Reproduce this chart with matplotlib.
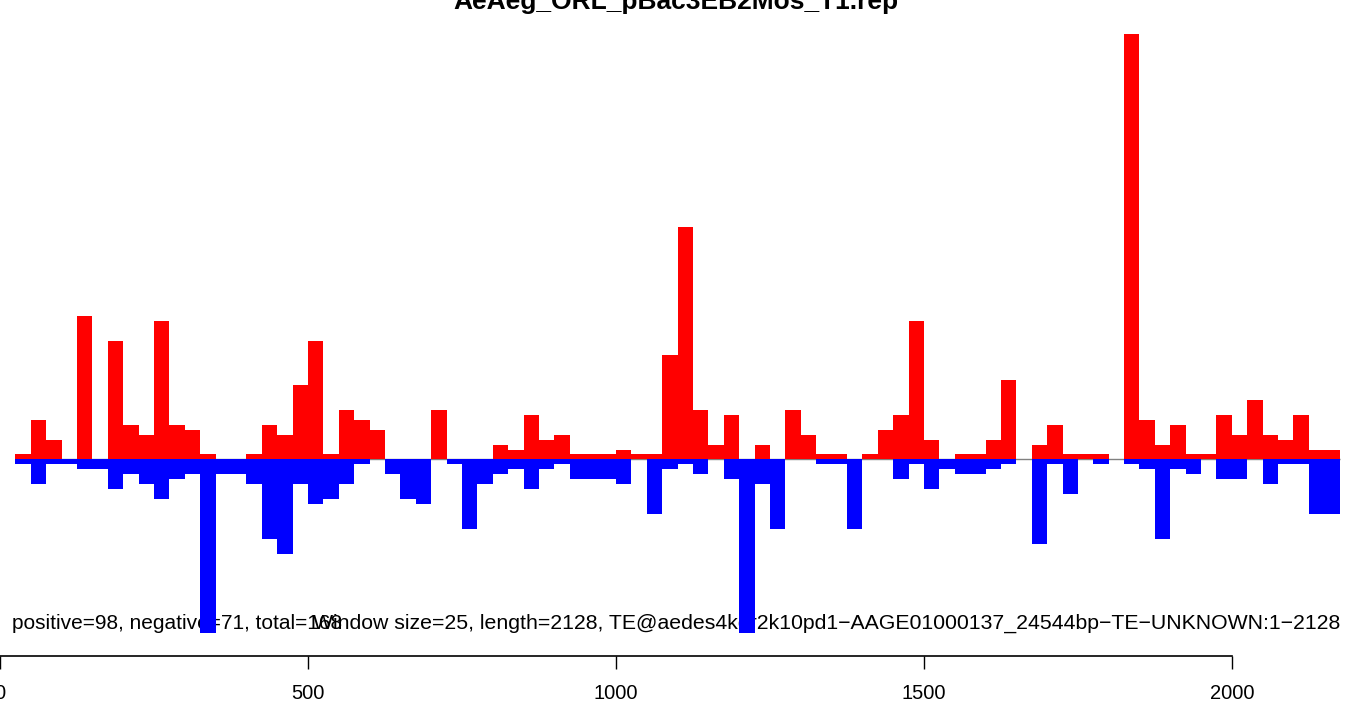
import numpy as np
import matplotlib
matplotlib.use("Agg")
import matplotlib.pyplot as plt

plt.rcParams['font.family'] = ['Liberation Sans', 'DejaVu Sans']

# window counts (one value per 25bp window)
window_size = 25
seq_length = 2128
positive = [1, 8, 4, 0, 29, 0, 24, 7, 5, 28, 7, 6, 1, 0, 0,
            1, 7, 5, 15, 24, 1, 10, 8, 6, 0, 0, 0, 10, 0, 0,
            0, 3, 2, 9, 4, 5, 1, 1, 1, 2, 1, 1, 21, 47, 10,
            3, 9, 0, 3, 0, 10, 5, 1, 1, 0, 1, 6, 9, 28, 4,
            0, 1, 1, 4, 16, 0, 3, 7, 1, 1, 1, 0, 86, 8, 3,
            7, 1, 1, 9, 5, 12, 5, 4, 9, 2, 2]
negative = [1, 5, 1, 1, 2, 2, 6, 3, 5, 8, 4, 3, 35, 3, 3,
            5, 16, 19, 5, 9, 8, 5, 1, 0, 3, 8, 9, 0, 1, 14,
            5, 3, 2, 6, 2, 1, 4, 4, 4, 5, 0, 11, 2, 1, 3,
            0, 4, 35, 5, 14, 0, 0, 1, 1, 14, 0, 0, 4, 1, 6,
            2, 3, 3, 2, 1, 0, 17, 1, 7, 0, 1, 0, 1, 2, 16,
            2, 3, 0, 4, 4, 0, 5, 1, 1, 11, 11]
xticks = [0, 500, 1000, 1500, 2000]

title = "AeAeg_ORL_pBac3EB2Mos_T1.rep"
left_note = "positive=98, negative=71, total=168"
right_note = ("Window size=25, length=2128, "
              "TE@aedes4kgr2k10pd1\u2212AAGE01000137_24544bp\u2212TE\u2212UNKNOWN:1\u22122128")

pos = np.array(positive)
neg = np.array(negative)
starts = window_size * np.arange(1, len(pos) + 1)

fig = plt.figure(figsize=(13.52, 7.04), dpi=100)
ax = fig.add_axes([0, 48 / 704, 1, 656 / 704])

# text sits under the bars, like in the original
ax.text(0.009, 0.05, left_note, transform=ax.transAxes, fontsize=15,
        ha='left', va='center', zorder=1)
ax.text(0.991, 0.05, right_note, transform=ax.transAxes, fontsize=15.3,
        ha='right', va='center', zorder=1)

ax.hlines(0, starts[0], starts[-1] + window_size, color='gray', lw=1, zorder=1)
ax.bar(starts, pos, width=window_size, align='edge', color='red', lw=0, zorder=2)
ax.bar(starts, -neg, width=window_size, align='edge', color='blue', lw=0, zorder=2)

ax.set_xlim(6.5, 2195)
ax.set_ylim(-39.7, 92.8)

for s in ['top', 'left', 'right']:
    ax.spines[s].set_visible(False)
ax.spines['bottom'].set_bounds(xticks[0], xticks[-1])
ax.spines['bottom'].set_linewidth(1.2)
ax.set_yticks([])
ax.set_xticks(xticks)
ax.tick_params(axis='x', direction='out', length=9.5, width=1, labelsize=14.5, pad=11)

fig.text(0.5, 1 - 9 / 704, title, ha='center', va='baseline',
         fontsize=19, fontweight='bold')

fig.savefig("out.png", dpi=100)
